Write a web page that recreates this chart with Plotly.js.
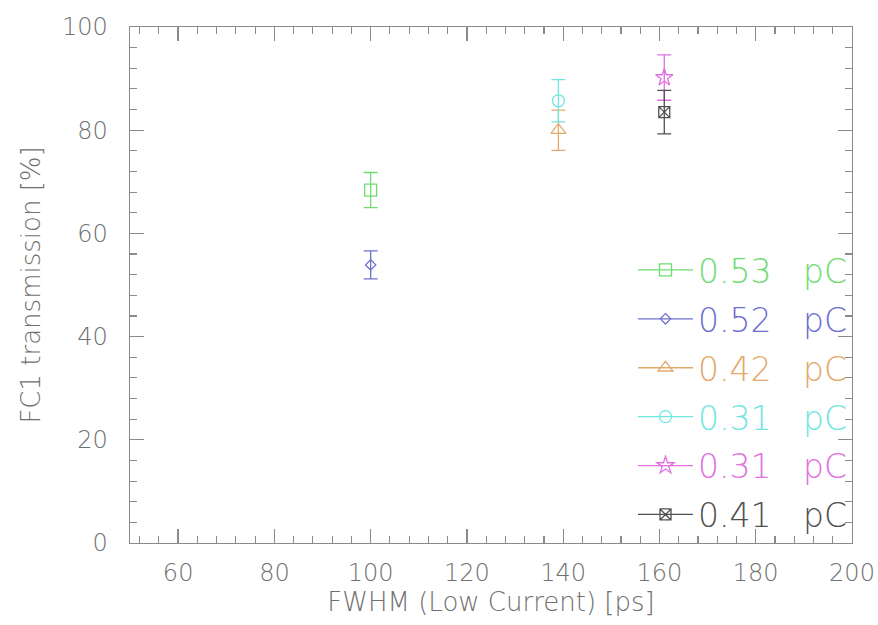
<!DOCTYPE html>
<html>
<head>
<meta charset="utf-8">
<script src="https://cdn.plot.ly/plotly-3.0.1.min.js"></script>
<style>html,body{margin:0;padding:0;background:#fff;}#chart{width:878px;height:625px;}</style>
</head>
<body>
<div id="chart"></div>
<script>
// Data
const seriesNames = ["0.53\u00a0\u00a0\u00a0pC", "0.52\u00a0\u00a0\u00a0pC", "0.42\u00a0\u00a0\u00a0pC", "0.31\u00a0\u00a0\u00a0pC", "0.31\u00a0\u00a0\u00a0pC", "0.41\u00a0\u00a0\u00a0pC"];
const fwhm = [100, 100, 139, 139, 161, 161];
const transmission = [68.4, 53.9, 80.0, 85.7, 90.2, 83.5];
const transErr = [3.4, 2.7, 3.9, 4.1, 4.4, 4.2];
const colors = ["#6fdc6f", "#6f6fd0", "#e2a96a", "#6fe6de", "#e070e0", "#505050"];
const symbols = ["square-open", "diamond-open", "triangle-up-open", "circle-open", "star-open", "square-x-open"];
const markerSizes = [12, 8, 13, 12, 13, 11];

const fontFam = "DejaVu Sans, sans-serif";
const traces = seriesNames.map((n, i) => ({
  type: "scatter",
  mode: "lines+markers",
  x: [fwhm[i]],
  y: [transmission[i]],
  name: '<span style="color:' + colors[i] + '">' + n + '</span>',
  legendgroup: "g" + i,
  line: {color: colors[i], width: 1.3},
  marker: {symbol: symbols[i], size: markerSizes[i], color: colors[i], line: {color: colors[i], width: 1.3}},
  error_y: {type: "data", array: [transErr[i]], visible: true, color: colors[i], thickness: 1.3, width: 7}
}));

const axisCommon = {
  showgrid: false, zeroline: false, showline: true, linecolor: "#8a8a8a", linewidth: 1.3,
  mirror: "allticks", ticks: "inside", ticklen: 14, tickcolor: "#8a8a8a", tickwidth: 1.3,
  tickfont: {family: fontFam, size: 24, color: "#707070", weight: 200},
  minor: {ticks: "inside", ticklen: 7, tickcolor: "#8a8a8a", tickwidth: 1.1, dtick: 4, showgrid: false}
};

const layout = {
  width: 878, height: 625,
  margin: {l: 130, r: 26, t: 27, b: 82},
  paper_bgcolor: "#ffffff", plot_bgcolor: "#ffffff",
  showlegend: true,
  legend: {
    x: 1, xanchor: "right", y: 0, yanchor: "bottom",
    bgcolor: "rgba(0,0,0,0)", borderwidth: 0,
    font: {family: fontFam, size: 33, color: "#707070", weight: 200},
    itemwidth: 55, tracegroupgap: 3
  },
  xaxis: Object.assign({}, axisCommon, {
    range: [50, 200], tickvals: [60, 80, 100, 120, 140, 160, 180, 200],
    ticklabelstandoff: 8,
    title: {text: "FWHM (Low Current) [ps]", font: {family: fontFam, size: 26, color: "#707070", weight: 200}, standoff: 6}
  }),
  yaxis: Object.assign({}, axisCommon, {
    range: [0, 100], tickvals: [0, 20, 40, 60, 80, 100],
    ticklabelstandoff: 16,
    title: {text: "FC1 transmission [%]", font: {family: fontFam, size: 26, color: "#707070", weight: 200}, standoff: 14}
  })
};

Plotly.newPlot("chart", traces, layout, {displayModeBar: false, staticPlot: true});
</script>
</body>
</html>
